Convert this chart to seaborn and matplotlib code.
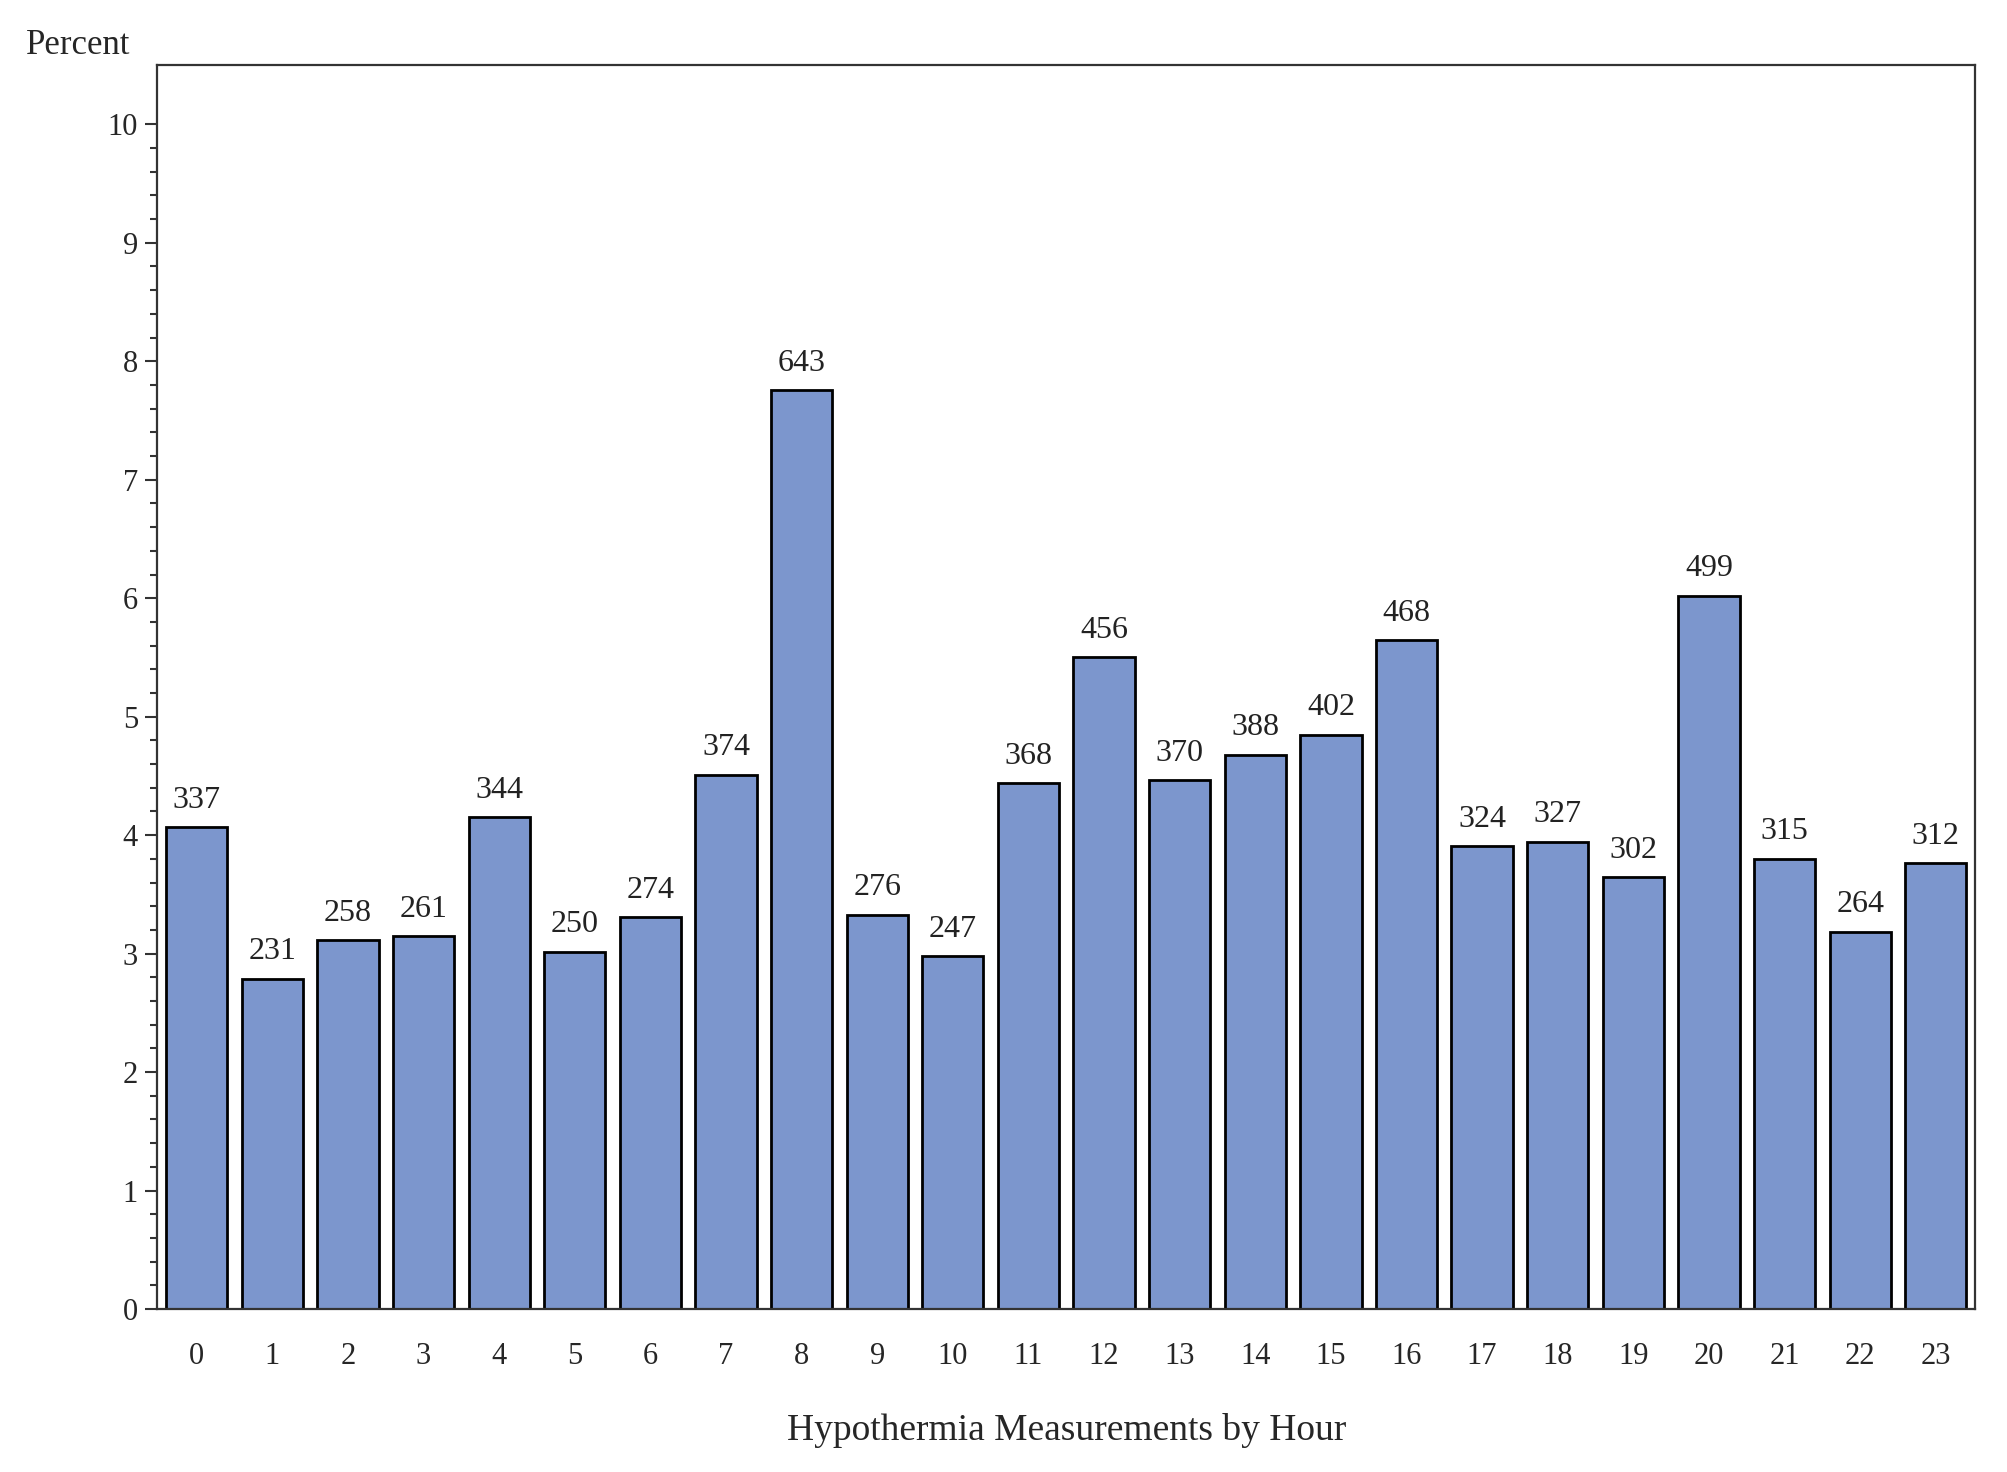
import pandas as pd
import numpy as np
import matplotlib
matplotlib.use("Agg")
import matplotlib.pyplot as plt
import seaborn as sns
from matplotlib.ticker import MultipleLocator, FixedLocator

# 数据
hours = [str(h) for h in range(24)]
counts = [337, 231, 258, 261, 344, 250, 274, 374, 643, 276, 247, 368,
          456, 370, 388, 402, 468, 324, 327, 302, 499, 315, 264, 312]

data = pd.DataFrame({'hour': hours, 'count': counts})
data['percent'] = data['count'] / data['count'].sum() * 100

sns.set_theme(style="white")
plt.rcParams['font.family'] = ['Liberation Serif', 'DejaVu Serif']

fig = plt.figure(figsize=(20.08, 14.72), dpi=100)
ax = fig.add_axes([0.0784, 0.1107, 0.9052, 0.8451])

sns.barplot(data=data, x='hour', y='percent', order=hours, color='#7C96CD',
            saturation=1, width=0.81, edgecolor='black', linewidth=2, ax=ax)

# 柱顶计数标签
ax.bar_label(ax.containers[0], labels=[str(c) for c in counts],
             padding=9, fontsize=23, color='#222222')

ax.set_xlim(-0.52, 23.52)
ax.set_ylim(0, 10.5)
ax.yaxis.set_major_locator(MultipleLocator(1))
ax.yaxis.set_minor_locator(FixedLocator(np.arange(0, 10.01, 0.2)))
ax.tick_params(axis='y', which='major', left=True, length=9, width=1.5,
               labelsize=22, pad=5, color='#333333')
ax.tick_params(axis='y', which='minor', left=True, length=5, width=1.5,
               color='#333333')
ax.tick_params(axis='x', bottom=False, labelsize=22, pad=18)

for s in ax.spines.values():
    s.set_visible(True)
    s.set_color('#333333')
    s.set_linewidth(1.6)

ax.set_xlabel('Hypothermia Measurements by Hour', fontsize=27, labelpad=30)
ax.set_ylabel('')
fig.text(0.013, 0.963, 'Percent', fontsize=25, ha='left', va='baseline')

fig.savefig('out.png', dpi=100)
